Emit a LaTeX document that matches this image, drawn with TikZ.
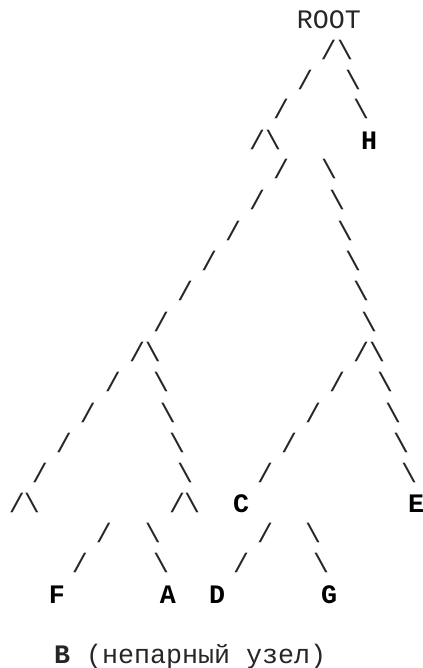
\documentclass[tikz,border=0pt]{standalone}
\usepackage{fontspec}
\setmainfont{Liberation Mono}
\begin{document}
\begin{tikzpicture}[x=0.75pt,y=-0.75pt,
  g/.style={inner sep=0pt,outer sep=0pt,text=black!85,font=\fontsize{20}{24}\selectfont},
  lbl/.style={g,text=black,font=\fontsize{20}{24}\selectfont\bfseries}]
\useasboundingbox (0,0) rectangle (422,668);
\node[g] (root) at (329,19.5) {ROOT};
\foreach \x/\y [count=\i] in {328.5/50,305/80,281/109,257/140,281/169,257/200,233/231,209/261,185/291,161/322,137/352,361/352,113/382,337/382,88/413,313/413,64/443,289/443,40/473,265/473,17/503,177/503,104/533,265/533,80/563,241/563}
  \node[g] (s\i) at (\x,\y) {/};
\foreach \x/\y [count=\i] in {345/50,353/80,361/109,273/140,329/169,337/200,345/231,353/261,361/291,369/322,153/352,377/352,161/382,385/382,168/413,393/413,177/443,401/443,185/473,409/473,32/503,192/503,153/533,313/533,161/563,321/563}
  \node[g] (b\i) at (\x,\y) {\textbackslash};
\node[lbl] (H) at (369,140.5) {H};
\node[lbl] (C) at (241,504) {C};
\node[lbl] (E) at (416,504) {E};
\node[lbl] (F) at (57,594.5) {F};
\node[lbl] (A) at (168,594.5) {A};
\node[lbl] (D) at (217,594.5) {D};
\node[lbl] (G) at (329,594.5) {G};
\node[g,anchor=base west] (note) at (54,663) {{\bfseries B} (непарный узел)};
\end{tikzpicture}
\end{document}
